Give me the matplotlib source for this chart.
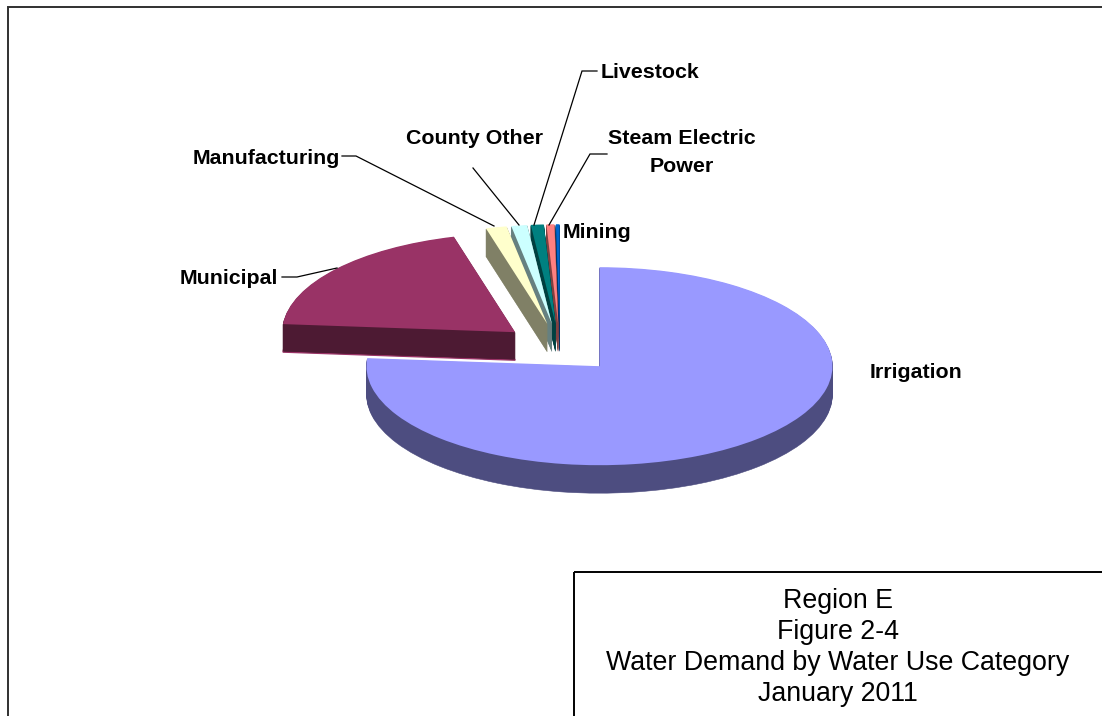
import matplotlib
matplotlib.use("Agg")
import matplotlib.pyplot as plt

# share of water demand by category, percent
categories = ['Irrigation', 'Municipal', 'Manufacturing', 'County Other',
              'Livestock', 'Steam Electric Power', 'Mining']
values = [76.3, 19.46, 1.45, 1.1, 0.89, 0.55, 0.25]
top_colors = ['#9999FF', '#993366', '#FFFFCC', '#CCFFFF', '#008080', '#FF8080', '#0066CC']
side_colors = ['#4D4D80', '#4D1A33', '#808066', '#668080', '#004040', '#804040', '#003366']
title_lines = ['Region E', 'Figure 2-4', 'Water Demand by Water Use Category', 'January 2011']

W, H = 1102, 716
CX, CY = 560, 348  # pie centre in pixels
RX, RY = 233, 99   # ellipse radii in pixels
DEPTH = 28
EXPLODE = 0.25
# painting order: big slices first, then the thin ones from mining back to manufacturing
DRAW_RANK = [0, 1, 6, 5, 4, 3, 2]

plt.rcParams['font.family'] = ['Liberation Sans', 'DejaVu Sans']

fig = plt.figure(figsize=(W / 100, H / 100), dpi=100)
ax = fig.add_axes([0, 0, 1, 1])

# stack of pies going upwards gives the 3D look
for layer in range(DEPTH, -1, -1):
    colors = top_colors if layer == 0 else side_colors
    wedges, _ = ax.pie(values, colors=colors, explode=[EXPLODE] * len(values),
                       startangle=90, counterclock=False, radius=1,
                       center=(0, -layer / RY))
    for i, w in enumerate(wedges):
        w.set_zorder(DRAW_RANK[i] * 100 + (DEPTH - layer))
        w.set_linewidth(0.4 if layer > 0 else 0)
        w.set_edgecolor(colors[i])
    if layer == DEPTH:
        # the municipal slice has a thin lighter outline along its foot
        wedges[1].set_edgecolor(top_colors[1])
        wedges[1].set_linewidth(1.0)

ax.set_aspect('auto')
ax.set_xlim(-CX / RX, (W - CX) / RX)
ax.set_ylim((CY - H) / RY, CY / RY)
ax.axis('off')

# overlay in pixel coordinates for the labels and boxes
ov = fig.add_axes([0, 0, 1, 1], facecolor='none')
ov.set_xlim(0, W)
ov.set_ylim(H, 0)
ov.axis('off')

# chart border
ov.plot([8, 8, W], [H, 7, 7], color='#303030', lw=1.4, solid_joinstyle='miter')

# leader lines
leaders = [
    ([282, 297, 337], [277, 277, 268]),
    ([342, 356, 494], [156, 156, 226]),
    ([473, 519], [168, 225]),
    ([597, 582, 534], [71, 71, 225]),
    ([607, 590, 549], [154, 154, 225]),
]
for xs, ys in leaders:
    ov.plot(xs, ys, color='black', lw=0.9, solid_joinstyle='miter')

label_style = dict(fontsize=15.4, fontweight='bold', ha='center', va='center', color='black')
ov.text(916, 372, categories[0], **label_style)
ov.text(229, 278, categories[1], **label_style)
ov.text(266, 158, categories[2], **label_style)
ov.text(474, 138, categories[3], **label_style)
ov.text(650, 72, categories[4], **label_style)
ov.text(682, 138, 'Steam Electric', **label_style)
ov.text(682, 167, 'Power', **label_style)
ov.text(597, 233, categories[6], **label_style)

# title box, runs off the figure at right and bottom
ov.add_patch(plt.Rectangle((574, 572), 600, 200, fill=False, edgecolor='black', lw=1.4))
for line, y in zip(title_lines, [601, 632, 663, 694]):
    ov.text(838, y, line, fontsize=19.3, ha='center', va='center', color='black')

fig.savefig('out.png', dpi=100)
